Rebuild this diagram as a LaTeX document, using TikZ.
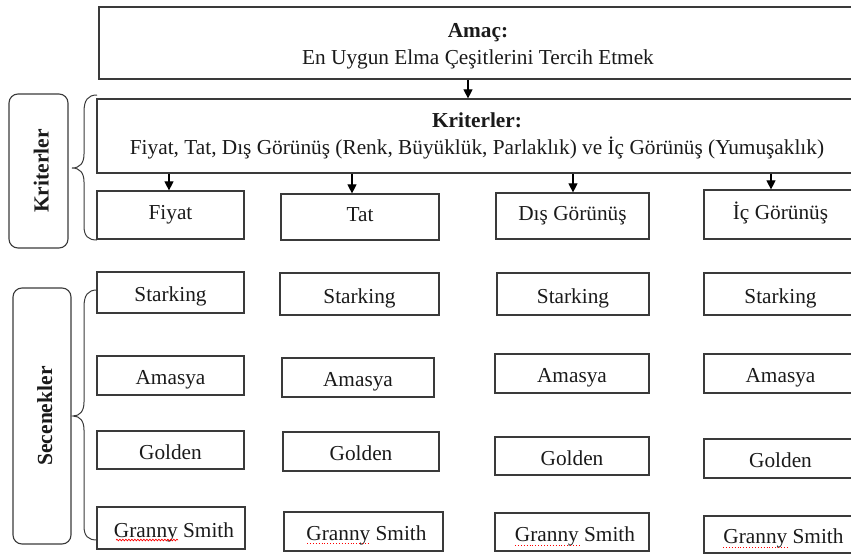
\documentclass[tikz,border=0pt]{standalone}
\usepackage{fontspec}
\setmainfont{Liberation Serif}
\usetikzlibrary{arrows.meta,decorations.pathmorphing}
\definecolor{boxline}{HTML}{3A3A3A}
\definecolor{txt}{HTML}{1A1A1A}
\newcommand\mybox[7]{\node[#7, minimum width={#4-#2}, minimum height={#5-#3}] (#1) at ({(#2+#4)/2},{(#3+#5)/2}) {#6};}
\begin{document}
\begin{tikzpicture}[x=1pt,y=-1pt,
  cbox/.style={draw=boxline, line width=1.2pt, inner sep=0pt, text=txt, align=center,
    font=\fontsize{21.3}{27}\selectfont},
  tbox/.style={cbox},
  kbox/.style={cbox, text height=15pt, text depth=6pt},
  abox/.style={cbox, text height=21pt, text depth=3pt},
  rbox/.style={draw=boxline, line width=1.1pt, rounded corners=9pt, inner sep=0pt, text=txt,
    text height=20pt, text depth=0pt, font=\fontsize{21.5}{25}\selectfont\bfseries},
  arr/.style={line width=1.1pt, -{Triangle[width=9pt,length=9pt]}},
  brace/.style={draw=boxline, line width=1pt},
  spell/.style={red, line width=0.7pt, decorate, decoration={snake, amplitude=0.8pt, segment length=3pt}},
  spelld/.style={red, line width=0.9pt, dotted}]
\useasboundingbox (0,0) rectangle (851,554);
\clip (0,0) rectangle (851,554);
% top boxes
\node[tbox, minimum width=758, minimum height=72] (amac) at (478,43) {};
\node[font=\fontsize{21.3}{27}\selectfont, text=txt, align=center, inner sep=0pt] (amact) at (478,46) {\textbf{Amaç:}\\En Uygun Elma Çeşitlerini Tercih Etmek};
\mybox{krit}{97}{99}{857}{173}{\textbf{Kriterler:}\\Fiyat, Tat, Dış Görünüş (Renk, Büyüklük, Parlaklık) ve İç Görünüş (Yumuşaklık)}{tbox}
% criteria
\mybox{c1}{97}{191}{244}{239}{Fiyat}{kbox}
\mybox{c2}{281}{194}{439}{240}{Tat}{kbox}
\mybox{c3}{496}{193}{649}{239}{Dış Görünüş}{kbox}
\mybox{c4}{704}{190}{857}{239}{İç Görünüş}{kbox}
% alternatives column 1
\mybox{s1}{97}{272}{244}{313}{Starking}{abox}
\mybox{m1}{97}{356}{244}{395}{Amasya}{abox}
\mybox{g1}{97}{431}{244}{469}{Golden}{abox}
\mybox{n1}{97}{507}{245}{549}{\hspace*{6pt}Granny Smith}{abox}
% column 2
\mybox{s2}{280}{273}{439}{315}{Starking}{abox}
\mybox{m2}{282}{358}{434}{397}{Amasya}{abox}
\mybox{g2}{283}{432}{439}{471}{Golden}{abox}
\mybox{n2}{284}{512}{443}{551}{\hspace*{6pt}Granny Smith}{abox}
% column 3
\mybox{s3}{497}{273}{649}{315}{Starking}{abox}
\mybox{m3}{495}{354}{649}{393}{Amasya}{abox}
\mybox{g3}{495}{437}{649}{475}{Golden}{abox}
\mybox{n3}{495}{513}{649}{551}{\hspace*{6pt}Granny Smith}{abox}
% column 4
\mybox{s4}{704}{273}{857}{315}{Starking}{abox}
\mybox{m4}{704}{354}{857}{393}{Amasya}{abox}
\mybox{g4}{704}{439}{857}{478}{Golden}{abox}
\mybox{n4}{704}{516}{857}{553}{\hspace*{6pt}Granny Smith}{abox}
% side labels
\node[rbox, rotate=90, minimum width=154, minimum height=59] (lk) at (38.5,171) {Kriterler};
\node[rbox, rotate=90, minimum width=256, minimum height=58] (ls) at (42,416) {Secenekler};
% braces
\draw[brace] (97,95) .. controls (88,95) and (84,100) .. (84,112) -- (84,154)
  .. controls (84,163) and (80,168) .. (72,168)
  .. controls (80,168) and (84,173) .. (84,182) -- (84,226)
  .. controls (84,236) and (88,240) .. (97,240);
\draw[brace] (97,290) .. controls (88,290) and (84,295) .. (84,307) -- (84,402)
  .. controls (84,411) and (80,416) .. (73,416)
  .. controls (80,416) and (84,421) .. (84,430) -- (84,526)
  .. controls (84,536) and (88,540) .. (97,540);
% arrows
\coordinate (x0) at (468,0);
\coordinate (x1) at (169,0);
\coordinate (x2) at (352,0);
\coordinate (x3) at (573,0);
\coordinate (x4) at (771,0);
\draw[arr] (x0 |- amac.south) -- (x0 |- krit.north);
\draw[arr] (x1 |- krit.south) -- (x1 |- c1.north);
\draw[arr] (x2 |- krit.south) -- (x2 |- c2.north);
\draw[arr] (x3 |- krit.south) -- (x3 |- c3.north);
\draw[arr] (x4 |- krit.south) -- (x4 |- c4.north);
% spell-check underlines
\draw[spell] (116,540) -- (178,540);
\draw[spelld] (307,543) -- (370,543);
\draw[spelld] (515,545) -- (580,545);
\draw[spelld] (723,547) -- (788,547);
\end{tikzpicture}
\end{document}
